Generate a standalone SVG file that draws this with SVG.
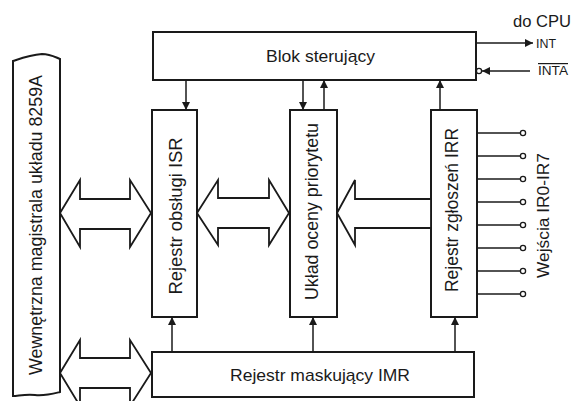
<svg xmlns="http://www.w3.org/2000/svg" width="573" height="401" viewBox="0 0 573 401">
<style>
.box{fill:#fff;stroke:#1a1a1a;stroke-width:2}
.ln{fill:none;stroke:#1a1a1a;stroke-width:1.5}
.big{fill:#fff;stroke:#1a1a1a;stroke-width:1.8;stroke-linejoin:miter}
.t{font-family:"Liberation Sans",Arial,sans-serif;fill:#1a1a1a;text-anchor:middle}
.pin{fill:#fff;stroke:#1a1a1a;stroke-width:1.3}
</style>
<defs>
<marker id="ah" viewBox="0 0 10 10" refX="10" refY="5" markerWidth="8" markerHeight="8" markerUnits="userSpaceOnUse" orient="auto">
<path d="M0,0 L10,5 L0,10 z" fill="#1a1a1a"/>
</marker>
</defs>
<rect width="573" height="401" fill="#fff"/>

<g id="bus">
<path class="box" d="M13,61 C22,58 30,55 42,54 C50,54 55,57 60,59 L60,392 C52,394 45,396 35,395 C25,394 18,396 13,396 Z"/>
<text class="t" font-size="17.5" textLength="300" lengthAdjust="spacingAndGlyphs" transform="translate(42,225) rotate(-90)">Wewnętrzna magistrala układu 8259A</text>
</g>

<g id="blok">
<rect class="box" x="153" y="32" width="323" height="48"/>
<text class="t" font-size="17" textLength="109" lengthAdjust="spacingAndGlyphs" x="320.5" y="62">Blok sterujący</text>
</g>

<g id="isr">
<rect class="box" x="152" y="110" width="45" height="207"/>
<text class="t" font-size="17.5" textLength="157" lengthAdjust="spacingAndGlyphs" transform="translate(181.5,216) rotate(-90)">Rejestr obsługi ISR</text>
</g>

<g id="prio">
<rect class="box" x="290" y="110" width="47" height="207"/>
<text class="t" font-size="17.5" textLength="177" lengthAdjust="spacingAndGlyphs" transform="translate(318,211.5) rotate(-90)">Układ oceny priorytetu</text>
</g>

<g id="irr">
<rect class="box" x="431" y="110" width="46" height="207"/>
<text class="t" font-size="17.5" textLength="164" lengthAdjust="spacingAndGlyphs" transform="translate(457.5,210) rotate(-90)">Rejestr zgłoszeń IRR</text>
</g>

<g id="imr">
<rect class="box" x="152" y="352" width="322" height="45"/>
<text class="t" font-size="17" textLength="180" lengthAdjust="spacingAndGlyphs" x="320" y="381">Rejestr maskujący IMR</text>
</g>

<g id="labels">
<text class="t" font-size="16" textLength="58" lengthAdjust="spacingAndGlyphs" x="542" y="27">do CPU</text>
<text class="t" font-size="12" textLength="20" lengthAdjust="spacingAndGlyphs" x="546" y="48">INT</text>
<text class="t" font-size="12" textLength="30" lengthAdjust="spacingAndGlyphs" x="553" y="75" text-decoration="overline">INTA</text>
<text class="t" font-size="16.5" textLength="125" lengthAdjust="spacingAndGlyphs" transform="translate(549,215.5) rotate(-90)">Wejścia IR0-IR7</text>
</g>

<g id="connectors">
<line class="ln" x1="186" y1="80" x2="186" y2="110" marker-end="url(#ah)"/>
<line class="ln" x1="303" y1="80" x2="303" y2="110" marker-end="url(#ah)"/>
<line class="ln" x1="324" y1="110" x2="324" y2="80" marker-end="url(#ah)"/>
<line class="ln" x1="440" y1="110" x2="440" y2="80" marker-end="url(#ah)"/>
<line class="ln" x1="172" y1="352" x2="172" y2="317" marker-end="url(#ah)"/>
<line class="ln" x1="313" y1="352" x2="313" y2="317" marker-end="url(#ah)"/>
<line class="ln" x1="455" y1="352" x2="455" y2="317" marker-end="url(#ah)"/>
<line class="ln" x1="476" y1="43" x2="533" y2="43" marker-end="url(#ah)"/>
<line class="ln" x1="530" y1="71" x2="482" y2="71" marker-end="url(#ah)"/>
<circle class="pin" cx="479" cy="71" r="2.6"/>
<g>
<line class="ln" x1="477" y1="133" x2="520" y2="133"/><circle class="pin" cx="523" cy="133" r="2.6"/>
<line class="ln" x1="477" y1="156" x2="520" y2="156"/><circle class="pin" cx="523" cy="156" r="2.6"/>
<line class="ln" x1="477" y1="179" x2="520" y2="179"/><circle class="pin" cx="523" cy="179" r="2.6"/>
<line class="ln" x1="477" y1="202" x2="520" y2="202"/><circle class="pin" cx="523" cy="202" r="2.6"/>
<line class="ln" x1="477" y1="225" x2="520" y2="225"/><circle class="pin" cx="523" cy="225" r="2.6"/>
<line class="ln" x1="477" y1="248" x2="520" y2="248"/><circle class="pin" cx="523" cy="248" r="2.6"/>
<line class="ln" x1="477" y1="271" x2="520" y2="271"/><circle class="pin" cx="523" cy="271" r="2.6"/>
<line class="ln" x1="477" y1="294" x2="520" y2="294"/><circle class="pin" cx="523" cy="294" r="2.6"/>
</g>
<path class="big" d="M60,213 L80,180 L80,199 L130,199 L130,180 L151,213 L130,247 L130,229 L80,229 L80,247 Z"/>
<path class="big" d="M197,213 L218,180 L218,198 L269,198 L269,180 L289,213 L269,245 L269,228 L218,228 L218,245 Z"/>
<path class="big" d="M337,213 L355,180 L355,199 L431,199 L431,228 L355,228 L355,245 Z"/>
<path class="big" d="M60,373 L80,340 L80,358 L130,358 L130,340 L151,373 L130,406 L130,388 L80,388 L80,406 Z"/>
</g>
</svg>
